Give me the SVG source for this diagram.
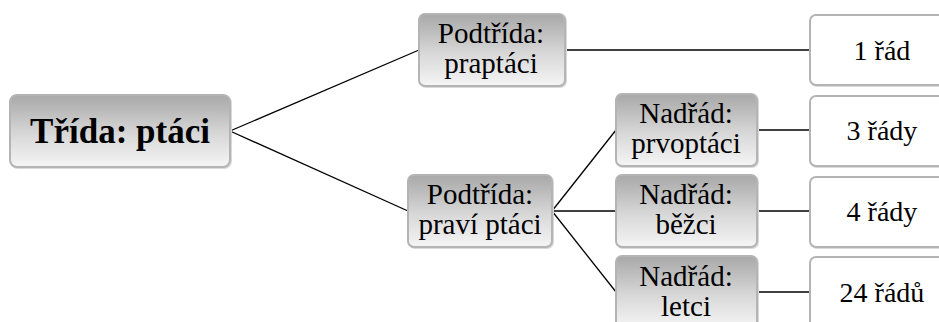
<svg xmlns="http://www.w3.org/2000/svg" width="939" height="322" viewBox="0 0 939 322">
<defs>
<linearGradient id="g" x1="0" y1="0" x2="0" y2="1">
<stop offset="0" stop-color="#a8a8a8"/>
<stop offset="0.55" stop-color="#d8d8d8"/>
<stop offset="1" stop-color="#f5f5f5"/>
</linearGradient>
<style>
.box{fill:url(#g);stroke:#b4b4b4;stroke-width:2}
.wbox{fill:#ffffff;stroke:#b4b4b4;stroke-width:2}
.sh{fill:none;stroke:#d9d9d9;stroke-width:2}
.con line{stroke:#000;stroke-width:1.3}
</style>
</defs>
<g class="con">
<line x1="230" y1="131" x2="419" y2="50"/>
<line x1="230" y1="131" x2="408" y2="211"/>
<line x1="565" y1="50" x2="810" y2="50"/>
<line x1="552" y1="211" x2="616" y2="130"/>
<line x1="552" y1="211" x2="616" y2="211"/>
<line x1="552" y1="211" x2="616" y2="292"/>
<line x1="757" y1="130" x2="810" y2="130"/>
<line x1="757" y1="211" x2="810" y2="211"/>
<line x1="757" y1="292" x2="810" y2="292"/>
</g>
<g font-family="Liberation Serif" font-size="29" text-anchor="middle" fill="#000">
<g id="root">
<rect class="sh" x="11" y="96" width="220" height="72" rx="7"/>
<rect class="box" x="10" y="95" width="220" height="72" rx="7"/>
<text x="120" y="143" font-family="Liberation Serif" font-size="35" font-weight="bold">Třída: ptáci</text>
</g>
<g id="praptaci">
<rect class="sh" x="420" y="15" width="146" height="72" rx="6"/>
<rect class="box" x="419" y="14" width="146" height="72" rx="6"/>
<text x="491" y="43" font-family="Liberation Serif">Podtřída:</text>
<text x="491" y="73" font-family="Liberation Serif">praptáci</text>
</g>
<g id="pravi">
<rect class="sh" x="409" y="176" width="144" height="72" rx="6"/>
<rect class="box" x="408" y="175" width="144" height="72" rx="6"/>
<text x="480" y="204" font-family="Liberation Serif">Podtřída:</text>
<text x="480" y="234" font-family="Liberation Serif">praví ptáci</text>
</g>
<g id="prvoptaci">
<rect class="sh" x="617" y="95" width="141" height="72" rx="6"/>
<rect class="box" x="616" y="94" width="141" height="72" rx="6"/>
<text x="686" y="123" font-family="Liberation Serif">Nadřád:</text>
<text x="686" y="153" font-family="Liberation Serif">prvoptáci</text>
</g>
<g id="bezci">
<rect class="sh" x="617" y="176" width="141" height="72" rx="6"/>
<rect class="box" x="616" y="175" width="141" height="72" rx="6"/>
<text x="686" y="204" font-family="Liberation Serif">Nadřád:</text>
<text x="686" y="234" font-family="Liberation Serif">běžci</text>
</g>
<g id="letci">
<rect class="sh" x="617" y="257" width="141" height="72" rx="6"/>
<rect class="box" x="616" y="256" width="141" height="72" rx="6"/>
<text x="686" y="286" font-family="Liberation Serif">Nadřád:</text>
<text x="686" y="316" font-family="Liberation Serif">letci</text>
</g>
<g id="r1">
<rect class="sh" x="811" y="16" width="146" height="70" rx="6"/>
<rect class="wbox" x="810" y="15" width="146" height="70" rx="6"/>
<text x="882" y="60" font-family="Liberation Serif" font-size="28">1 řád</text>
</g>
<g id="r3">
<rect class="sh" x="811" y="97" width="146" height="70" rx="6"/>
<rect class="wbox" x="810" y="96" width="146" height="70" rx="6"/>
<text x="882" y="140" font-family="Liberation Serif" font-size="28">3 řády</text>
</g>
<g id="r4">
<rect class="sh" x="811" y="178" width="146" height="70" rx="6"/>
<rect class="wbox" x="810" y="177" width="146" height="70" rx="6"/>
<text x="882" y="221" font-family="Liberation Serif" font-size="28">4 řády</text>
</g>
<g id="r24">
<rect class="sh" x="811" y="258" width="146" height="70" rx="6"/>
<rect class="wbox" x="810" y="257" width="146" height="70" rx="6"/>
<text x="882" y="302" font-family="Liberation Serif" font-size="28">24 řádů</text>
</g>
</g>
</svg>
